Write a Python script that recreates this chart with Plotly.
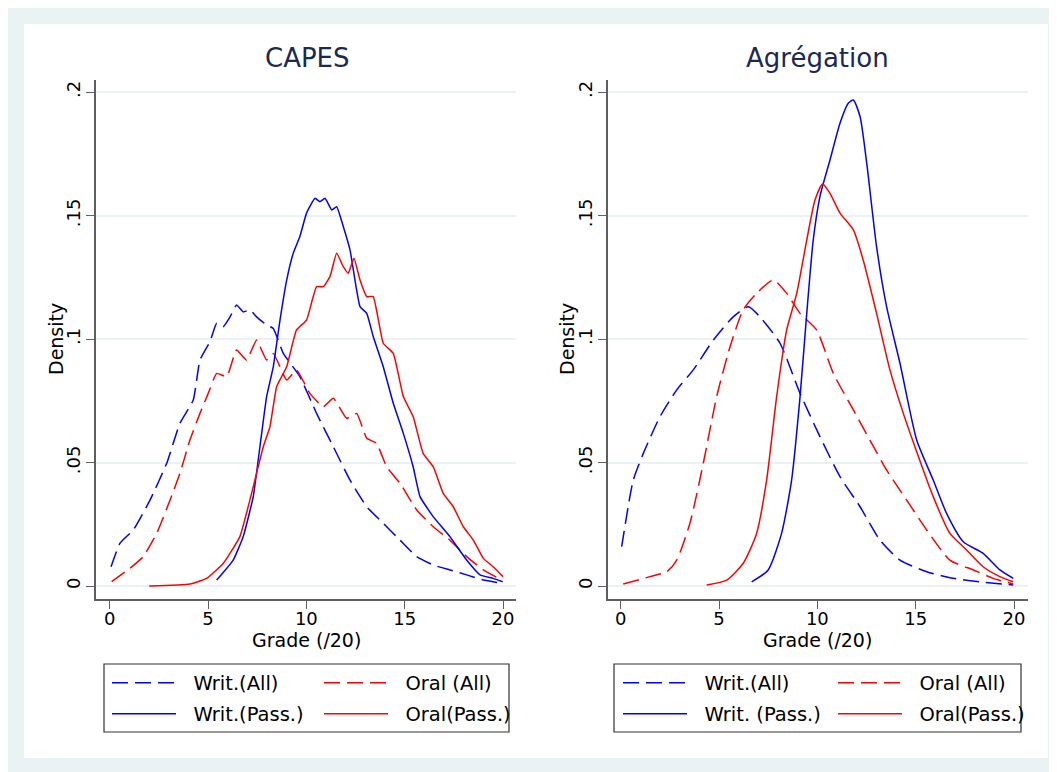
import plotly.graph_objects as go

W, H = 1057, 772

# ---------------- data ----------------
capes_writ_all_x = [0.07, 0.52, 1.2, 2.05, 2.9, 3.57, 4.25, 4.59, 5.1, 5.44, 5.77, 6.12, 6.45, 6.79, 7.13, 7.47, 7.98, 8.32, 8.83, 9.67, 10.52, 11.37, 12.22, 13.07, 13.91, 14.76, 15.61, 16.45, 17.3, 18.15, 19.0, 19.93]
capes_writ_all_y = [0.0078, 0.0173, 0.0227, 0.0348, 0.0497, 0.0659, 0.0753, 0.0915, 0.099, 0.1064, 0.105, 0.109, 0.1138, 0.111, 0.1118, 0.109, 0.1057, 0.1043, 0.0942, 0.0848, 0.0699, 0.0564, 0.0429, 0.0321, 0.0254, 0.0186, 0.0119, 0.0085, 0.0065, 0.0045, 0.0024, 0.0011]

capes_oral_all_x = [0.1, 1.03, 1.71, 2.39, 3.07, 3.57, 4.08, 4.59, 5.01, 5.44, 5.95, 6.45, 6.96, 7.47, 7.98, 8.32, 9.0, 9.5, 10.18, 10.86, 11.37, 12.05, 12.56, 13.07, 13.57, 14.08, 14.76, 15.61, 16.45, 17.3, 18.15, 19.0, 19.93]
capes_oral_all_y = [0.0018, 0.0072, 0.0119, 0.0213, 0.0348, 0.0456, 0.0591, 0.0699, 0.078, 0.0861, 0.0848, 0.0956, 0.0915, 0.0996, 0.0915, 0.0942, 0.0834, 0.0875, 0.078, 0.0726, 0.076, 0.0679, 0.0699, 0.0598, 0.0578, 0.0483, 0.0416, 0.0308, 0.024, 0.0186, 0.0119, 0.0065, 0.0024]

capes_writ_pass_x = [5.44, 6.28, 6.79, 7.3, 7.64, 7.98, 8.32, 8.66, 9.0, 9.33, 9.67, 10.01, 10.44, 10.69, 10.95, 11.29, 11.54, 11.88, 12.22, 12.73, 13.07, 13.4, 13.91, 14.42, 14.93, 15.43, 15.78, 16.45, 17.3, 18.15, 18.83, 19.5, 19.98]
capes_writ_pass_y = [0.0024, 0.0105, 0.02, 0.0362, 0.0564, 0.0767, 0.0888, 0.1077, 0.1239, 0.1347, 0.1415, 0.151, 0.157, 0.1556, 0.157, 0.1523, 0.1536, 0.1455, 0.1361, 0.1131, 0.1104, 0.101, 0.0888, 0.074, 0.0618, 0.0483, 0.0362, 0.0281, 0.02, 0.0105, 0.0045, 0.0031, 0.0017]

capes_oral_pass_x = [2.01, 4.08, 4.93, 5.78, 6.62, 7.3, 7.81, 8.15, 8.49, 9.0, 9.5, 10.01, 10.52, 10.86, 11.2, 11.54, 11.88, 12.13, 12.42, 12.73, 13.07, 13.4, 13.91, 14.42, 14.93, 15.43, 15.94, 16.45, 16.96, 17.47, 17.98, 18.49, 19.0, 19.5, 20.0]
capes_oral_pass_y = [0.0, 0.0008, 0.0031, 0.0092, 0.02, 0.0402, 0.0564, 0.0645, 0.0807, 0.0888, 0.1037, 0.1077, 0.1212, 0.1212, 0.1253, 0.1347, 0.1293, 0.1266, 0.1327, 0.1239, 0.1172, 0.1172, 0.0983, 0.0942, 0.0767, 0.0686, 0.0537, 0.0483, 0.0375, 0.0321, 0.024, 0.0186, 0.0112, 0.0078, 0.0038]

agreg_writ_all_x = [0.05, 0.64, 1.15, 2.0, 2.85, 3.69, 4.71, 5.72, 6.49, 7.08, 8.1, 9.12, 10.13, 11.15, 12.17, 13.18, 14.2, 15.56, 16.91, 18.27, 19.96]
agreg_writ_all_y = [0.0159, 0.0429, 0.0537, 0.0686, 0.0794, 0.0875, 0.0996, 0.109, 0.1131, 0.109, 0.0983, 0.078, 0.0605, 0.0443, 0.0321, 0.0186, 0.0105, 0.0058, 0.0031, 0.0017, 0.0004]

agreg_oral_all_x = [0.13, 1.49, 2.34, 2.85, 3.52, 4.2, 4.88, 5.56, 6.23, 6.91, 7.76, 8.44, 9.12, 9.96, 10.81, 11.83, 12.67, 13.52, 14.54, 15.56, 16.74, 17.93, 18.94, 19.96]
agreg_oral_all_y = [0.0008, 0.0038, 0.0058, 0.0105, 0.0254, 0.0497, 0.0767, 0.0969, 0.1118, 0.1185, 0.1239, 0.1185, 0.1104, 0.1037, 0.0861, 0.0713, 0.0591, 0.047, 0.0348, 0.0227, 0.0105, 0.0065, 0.0031, 0.0008]

agreg_writ_pass_x = [6.66, 7.5, 8.18, 8.69, 9.12, 9.46, 9.79, 10.13, 10.64, 11.15, 11.57, 11.83, 12.17, 12.51, 13.01, 13.52, 14.2, 15.05, 15.89, 16.57, 17.42, 18.43, 19.28, 19.96]
agreg_writ_pass_y = [0.0017, 0.0065, 0.0213, 0.0429, 0.0767, 0.1104, 0.1401, 0.1577, 0.1725, 0.1874, 0.1955, 0.1968, 0.1901, 0.1712, 0.1374, 0.1131, 0.0902, 0.0591, 0.0429, 0.0294, 0.0179, 0.0132, 0.0065, 0.0031]

agreg_oral_pass_x = [4.37, 5.39, 6.23, 6.91, 7.42, 7.93, 8.44, 8.95, 9.46, 9.88, 10.27, 10.64, 11.15, 11.83, 12.33, 13.01, 13.69, 14.37, 14.96, 15.89, 16.74, 17.59, 18.43, 19.28, 19.96]
agreg_oral_pass_y = [0.0004, 0.0024, 0.0092, 0.0213, 0.0429, 0.0767, 0.1037, 0.1185, 0.1401, 0.1563, 0.1628, 0.159, 0.151, 0.1442, 0.132, 0.1104, 0.0875, 0.0699, 0.0564, 0.0362, 0.0213, 0.0146, 0.0078, 0.0038, 0.0017]

y_tickvals = [0, 0.05, 0.1, 0.15, 0.2]
y_ticktext = ["0", ".05", ".1", ".15", ".2"]
x_tickvals = [0, 5, 10, 15, 20]
x_ticktext = ["0", "5", "10", "15", "20"]

panel_titles = ["CAPES", "Agrégation"]
legend_names_left = ["Writ.(All)", "Oral (All)", "Writ.(Pass.)", "Oral(Pass.)"]
legend_names_right = ["Writ.(All)", "Oral (All)", "Writ. (Pass.)", "Oral(Pass.)"]

# ---------------- styling ----------------
FONT = "DejaVu Sans"
BG = "#EAF2F3"
BLUE = "#0000FF"
RED = "#FF0000"
DASH = "16px,7px"
AXC = "#5f5f5f"
TITLE_C = "#1c2a50"
OFF = 8  # page body margin of the html page
NBSP = "\u00a0"


def px(x):
    return (x - OFF) / W


def py(y):
    return 1 - (y - OFF) / H


fig = go.Figure()

panels = [
    dict(xa="x", ya="y", data=[(capes_writ_all_x, capes_writ_all_y), (capes_oral_all_x, capes_oral_all_y),
                               (capes_writ_pass_x, capes_writ_pass_y), (capes_oral_pass_x, capes_oral_pass_y)],
         names=legend_names_left, leg0=1, smooth=0.4),
    dict(xa="x2", ya="y2", data=[(agreg_writ_all_x, agreg_writ_all_y), (agreg_oral_all_x, agreg_oral_all_y),
                                 (agreg_writ_pass_x, agreg_writ_pass_y), (agreg_oral_pass_x, agreg_oral_pass_y)],
         names=legend_names_right, leg0=5, smooth=0.6),
]
styles = [(BLUE, DASH), (RED, DASH), (BLUE, "solid"), (RED, "solid")]

for p in panels:
    for i, ((xs, ys), (col, dash)) in enumerate(zip(p["data"], styles)):
        legname = "legend" if p["leg0"] + i == 1 else f"legend{p['leg0'] + i}"
        fig.add_trace(go.Scatter(
            x=xs, y=ys, mode="lines", name=NBSP * 2 + p["names"][i],
            line=dict(color=col, width=1.5, dash=dash, shape="spline", smoothing=p["smooth"]),
            xaxis=p["xa"], yaxis=p["ya"], legend=legname, showlegend=True,
        ))

# plot areas in pixels
L = dict(x0=96, x1=516, y0=80, y1=599, xr=[-0.696, 20.66])
R = dict(x0=608, x1=1028, y0=80, y1=599, xr=[-0.646, 20.71])
yr = [-0.00526, 0.2049]

axis_common = dict(showline=True, linecolor=AXC, linewidth=1.5, ticks="outside", ticklen=8,
                   tickcolor=AXC, tickwidth=1.2, zeroline=False,
                   tickfont=dict(family=FONT, size=18, color="black"))

layout = dict(
    width=W, height=H, margin=dict(l=0, r=0, t=0, b=0),
    paper_bgcolor=BG, plot_bgcolor="white",
    font=dict(family=FONT, color="black"),
)

for n, P in [("", L), ("2", R)]:
    layout["xaxis" + n] = dict(domain=[px(P["x0"]), px(P["x1"])], range=P["xr"], anchor="y" + n,
                               tickvals=x_tickvals, ticktext=x_ticktext, showgrid=False,
                               ticklabelstandoff=-5, **axis_common)
    layout["yaxis" + n] = dict(domain=[py(P["y1"]), py(P["y0"])], range=yr, anchor="x" + n,
                               tickvals=y_tickvals, ticktext=y_ticktext, tickangle=-90,
                               showgrid=True, gridcolor=BG, gridwidth=1.5, ticklabelstandoff=-1, **axis_common)

# legends: 2x2 grid per panel
leg_pos = [
    (112, 683), (324, 683), (112, 714), (324, 714),
    (623, 683), (838, 683), (623, 714), (838, 714),
]
for k, (lx, ly) in enumerate(leg_pos, start=1):
    key = "legend" if k == 1 else f"legend{k}"
    layout[key] = dict(x=px(lx - 5), y=py(ly), xanchor="left", yanchor="middle",
                       bgcolor="rgba(0,0,0,0)", borderwidth=0, itemwidth=64,
                       font=dict(family=FONT, size=19.5, color="black"),
                       itemclick=False, itemdoubleclick=False)

fig.update_layout(**layout)

# white inner region and legend frames
fig.add_shape(type="rect", xref="paper", yref="paper", x0=px(24), x1=px(1048), y0=py(758), y1=py(24),
              fillcolor="white", line=dict(width=0), layer="below")
for (bx0, bx1) in [(104, 509), (614, 1021)]:
    fig.add_shape(type="rect", xref="paper", yref="paper", x0=px(bx0), x1=px(bx1), y0=py(732), y1=py(664),
                  fillcolor="rgba(0,0,0,0)", line=dict(color="#333333", width=1.2))

# titles and axis titles
for cx, t in zip([307, 817], panel_titles):
    fig.add_annotation(x=px(cx), y=py(58), xref="paper", yref="paper", text=t, showarrow=False,
                       font=dict(family=FONT, size=26, color=TITLE_C), xanchor="center", yanchor="middle")
for cx in [306, 817]:
    fig.add_annotation(x=px(cx), y=py(640), xref="paper", yref="paper", text="Grade (/20)", showarrow=False,
                       font=dict(family=FONT, size=19, color="black"), xanchor="center", yanchor="middle")
for cx in [56, 567]:
    fig.add_annotation(x=px(cx), y=py(339), xref="paper", yref="paper", text="Density", showarrow=False,
                       textangle=-90, font=dict(family=FONT, size=19, color="black"),
                       xanchor="center", yanchor="middle")

fig.write_html("out.html")
